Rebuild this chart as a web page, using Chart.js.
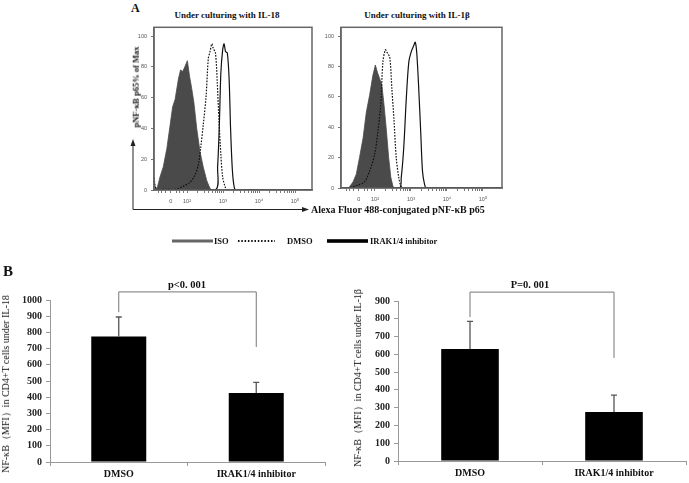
<!DOCTYPE html>
<html>
<head>
<meta charset="utf-8">
<script src="https://cdn.jsdelivr.net/npm/chart.js@4.4.0/dist/chart.umd.min.js"></script>
<style>
html, body { margin: 0; padding: 0; background: #fff; }
#fig { position: relative; width: 689px; height: 483px; overflow: hidden;
       font-family: "Liberation Serif", "Times New Roman", serif; color: #111; }
.box { position: absolute; }
.t { position: absolute; white-space: nowrap; font-weight: bold; line-height: 1; }
.c { transform: translate(-50%, -50%); }
.l { transform: translate(0, -50%); }
.r { transform: translate(-50%, -50%) rotate(-90deg); }
</style>
</head>
<body>
<div id="fig">

<svg class="box" style="left:0;top:0" width="689" height="483">
  <!-- axis arrows of panel A -->
  <line x1="133" y1="144" x2="133" y2="209.5" stroke="#222" stroke-width="1"/>
  <polygon points="133,139 130.5,146 135.5,146" fill="#222"/>
  <line x1="133" y1="209.5" x2="304" y2="209.5" stroke="#222" stroke-width="1"/>
  <polygon points="309,209.5 302,207 302,212" fill="#222"/>
  <!-- legend keys -->
  <rect x="172" y="239.5" width="41" height="3" fill="#666"/>
  <line x1="238" y1="241" x2="275" y2="241" stroke="#111" stroke-width="2" stroke-dasharray="1.5 1.8"/>
  <rect x="327" y="239.2" width="41" height="3.6" fill="#000"/>
</svg>

<canvas id="h18" class="box" style="left:134px;top:20px" width="182" height="195"></canvas>
<canvas id="h1b" class="box" style="left:321px;top:20px" width="185" height="193"></canvas>
<canvas id="b18" class="box" style="left:0px;top:270px" width="330" height="213"></canvas>
<canvas id="b1b" class="box" style="left:345px;top:270px" width="344" height="213"></canvas>

<div class="t" style="left:131px;top:2px;font-size:12px">A</div>
<div class="t c" style="left:227px;top:15px;font-size:9px">Under culturing with IL-18</div>
<div class="t c" style="left:417px;top:15px;font-size:9px">Under culturing with IL-1β</div>
<div class="t r" style="left:136px;top:87px;font-size:8.5px">pNF-κB p65% of Max</div>
<div class="t l" style="left:311px;top:210px;font-size:10px">Alexa Fluor 488-conjugated pNF-κB p65</div>

<div class="t l" style="left:214px;top:241px;font-size:8.5px">ISO</div>
<div class="t l" style="left:287px;top:241px;font-size:8.5px">DMSO</div>
<div class="t l" style="left:370px;top:241px;font-size:8.5px">IRAK1/4 inhibitor</div>

<div class="t" style="left:3px;top:264px;font-size:15px">B</div>
<div class="t c" style="left:187px;top:285px;font-size:10.5px">p&lt;0. 001</div>
<div class="t c" style="left:530px;top:285px;font-size:10.5px">P=0. 001</div>
<div class="t r" style="left:6px;top:384px;font-size:10px;font-weight:normal">NF-κB（MFI）in CD4+T cells under IL-18</div>
<div class="t r" style="left:358px;top:378px;font-size:10px;font-weight:normal">NF-κB（MFI）in CD4+T cells under IL-1β</div>

</div>
<script>
// ===== histogram data (x in decades of the logicle axis, y = % of max) =====
const iso18X  = [1.09, 1.12, 1.18, 1.25, 1.34, 1.44, 1.53, 1.60, 1.67, 1.76, 1.82, 1.88, 1.94, 2.01, 2.07, 2.13, 2.19, 2.27, 2.36, 2.45, 2.55, 2.64, 2.69];
const iso18Y  = [6, 0.5, 2, 8.5, 15, 27, 42, 54, 59, 72, 78, 77, 80, 84, 74, 66, 57, 40, 25, 15, 6, 1, 0];
const dmso18X = [1.09, 1.11, 1.15, 1.40, 1.71, 1.90, 2.08, 2.22, 2.32, 2.38, 2.45, 2.53, 2.59, 2.64, 2.69, 2.73, 2.79, 2.84, 2.89, 2.94, 2.99, 3.06, 3.12, 5.46];
const dmso18Y = [8, 3, 0.5, 0.5, 0.5, 2.5, 5, 9.5, 17, 27.5, 42, 61, 85, 90, 95, 92, 89, 70, 44, 23, 8.5, 2, 0, 0];
const irak18X = [1.09, 2.78, 2.85, 2.90, 2.94, 2.99, 3.03, 3.07, 3.12, 3.17, 3.21, 3.26, 3.31, 3.36, 5.46];
const irak18Y = [0, 0, 15, 44, 76, 91, 95, 90, 89, 72, 40, 13, 2, 0, 0];

const iso1bX  = [1.25, 1.30, 1.39, 1.48, 1.57, 1.67, 1.76, 1.85, 1.94, 2.01, 2.07, 2.13, 2.19, 2.25, 2.32, 2.38, 2.44, 2.50, 2.55];
const iso1bY  = [0, 1, 4, 9, 20, 33, 50, 61, 74, 81, 76, 72, 68, 55, 37, 20, 7, 1, 0];
const dmso1bX = [1.06, 1.34, 1.53, 1.71, 1.85, 1.99, 2.08, 2.16, 2.22, 2.29, 2.34, 2.41, 2.47, 2.53, 2.59, 2.66, 2.71, 2.78, 5.52];
const dmso1bY = [0, 0.5, 2, 4, 11, 22, 37, 55, 83, 91, 89, 86, 65, 44, 20, 7, 2, 0, 0];
const irak1bX = [1.06, 2.67, 2.73, 2.80, 2.87, 2.94, 3.01, 3.08, 3.12, 3.16, 3.21, 3.27, 3.32, 3.38, 3.43, 5.52];
const irak1bY = [0, 0, 7, 27, 59, 83, 90, 94, 96, 89, 68, 37, 11, 2, 0, 0];

const histTicks = [1.55, 2, 3, 4, 5];
const histTickLabels = ["0", "10²", "10³", "10⁴", "10⁵"];
const pctTicks = [0, 20, 40, 60, 80, 100];

// ===== bar data (MFI) =====
const cats = ["DMSO", "IRAK1/4 inhibitor"];
const mfiIL18 = [775, 426];
const errIL18 = [120, 66];
const mfiIL1b = [630, 275];
const errIL1b = [155, 96];
// significance bracket: [top, left end, right end]
const brIL18 = [1050, 925, 710];
const brIL1b = [950, 810, 580];

// minor tick marks on the log decades
const minorTicks = [];
[2, 3, 4].forEach(d => { for (let m = 2; m <= 9; m++) minorTicks.push(d + Math.log10(m)); });
[1.2, 1.3, 1.4, 1.7, 1.8, 1.9].forEach(v => minorTicks.push(v));

const pts = (xs, ys) => xs.map((x, i) => ({ x: x, y: ys[i] }));

const frame = {
    id: "frame",
    afterDatasetsDraw(chart) {
        const a = chart.chartArea, c = chart.ctx;
        c.save();
        c.strokeStyle = "#666";
        c.lineWidth = 1.5;
        c.strokeRect(a.left, a.top, a.right - a.left, a.bottom - a.top);
        c.restore();
    }
};

const smallFont = { size: 5.5, family: "Liberation Sans" };

function histo(id, iso, dmso, irak, xmin, xmax, ymax) {
    new Chart(document.getElementById(id), {
        type: "line",
        data: {
            datasets: [
                { data: pts(irak[0], irak[1]), borderColor: "#111", borderWidth: 1.2,
                  pointRadius: 0, tension: 0.3, fill: false, order: 1 },
                { data: pts(dmso[0], dmso[1]), borderColor: "#111", borderWidth: 1.2,
                  borderDash: [1.6, 1.4], pointRadius: 0, tension: 0.3, fill: false, order: 2 },
                { data: pts(iso[0], iso[1]), borderColor: "#4a4a4a", backgroundColor: "#4a4a4a",
                  borderWidth: 0.8, pointRadius: 0, tension: 0, fill: "origin", order: 3 }
            ]
        },
        options: {
            responsive: false,
            animation: false,
            devicePixelRatio: 1,
            layout: { padding: { top: 4, right: 4, left: 0, bottom: 0 } },
            plugins: { legend: { display: false }, tooltip: { enabled: false } },
            scales: {
                x: {
                    type: "linear", min: xmin, max: xmax,
                    afterBuildTicks: s => { s.ticks = histTicks.concat(minorTicks).map(v => ({ value: v })); },
                    afterFit: s => { s.height = 25; },
                    ticks: {
                        autoSkip: false, maxRotation: 0, padding: 5, font: smallFont, color: "#555",
                        callback: v => {
                            const i = histTicks.findIndex(t => Math.abs(t - v) < 1e-6);
                            return i < 0 ? "" : histTickLabels[i];
                        }
                    },
                    grid: { drawOnChartArea: false, tickLength: 3, color: "#777" },
                    border: { color: "#666", width: 1.5 }
                },
                y: {
                    min: 0, max: ymax,
                    afterBuildTicks: s => { s.ticks = pctTicks.map(v => ({ value: v })); },
                    afterFit: s => { s.width = 20; },
                    ticks: { padding: 4, font: smallFont, color: "#555" },
                    grid: { drawOnChartArea: false, tickLength: 3, color: "#777" },
                    border: { color: "#666", width: 1.5 }
                }
            }
        },
        plugins: [frame]
    });
}

histo("h18", [iso18X, iso18Y], [dmso18X, dmso18Y], [irak18X, irak18Y], 1.083, 5.472, 105.7);
histo("h1b", [iso1bX, iso1bY], [dmso1bX, dmso1bY], [irak1bX, irak1bY], 1.056, 5.528, 105.8);

const serifBold = { size: 10, weight: "bold", family: "Liberation Serif" };

function bars(id, vals, errs, ymax, br, yw, xh, padTop, padRight) {
    const marks = {
        id: "marks",
        afterDatasetsDraw(chart) {
            const x = chart.scales.x, y = chart.scales.y, c = chart.ctx;
            c.save();
            c.strokeStyle = "#555";
            c.lineWidth = 1.3;
            vals.forEach((v, i) => {
                const px = x.getPixelForValue(i);
                const y0 = y.getPixelForValue(v), y1 = y.getPixelForValue(v + errs[i]);
                c.beginPath();
                c.moveTo(px, y0); c.lineTo(px, y1);
                c.moveTo(px - 3, y1); c.lineTo(px + 3, y1);
                c.stroke();
            });
            // significance bracket
            const xl = x.getPixelForValue(0), xr = x.getPixelForValue(1);
            c.strokeStyle = "#777";
            c.lineWidth = 1;
            c.beginPath();
            c.moveTo(xl, y.getPixelForValue(br[1]));
            c.lineTo(xl, y.getPixelForValue(br[0]));
            c.lineTo(xr, y.getPixelForValue(br[0]));
            c.lineTo(xr, y.getPixelForValue(br[2]));
            c.stroke();
            c.restore();
        }
    };

    new Chart(document.getElementById(id), {
        type: "bar",
        data: {
            labels: cats,
            datasets: [{ data: vals, backgroundColor: "#000", borderWidth: 0,
                         barPercentage: 0.4, categoryPercentage: 1 }]
        },
        options: {
            responsive: false,
            animation: false,
            devicePixelRatio: 1,
            layout: { padding: { top: padTop, right: padRight, left: 0, bottom: 0 } },
            plugins: { legend: { display: false }, tooltip: { enabled: false } },
            scales: {
                x: {
                    afterFit: s => { s.height = xh; },
                    ticks: { padding: 2, font: serifBold, color: "#111", maxRotation: 0 },
                    grid: { offset: true, drawOnChartArea: false, tickLength: 4, color: "#999" },
                    border: { color: "#999" }
                },
                y: {
                    min: 0, max: ymax,
                    afterFit: s => { s.width = yw; },
                    ticks: { stepSize: 100, padding: 4, font: serifBold, color: "#222",
                             callback: v => String(v) },
                    grid: { drawOnChartArea: false, tickLength: 4, color: "#999" },
                    border: { color: "#999" }
                }
            }
        },
        plugins: [marks]
    });
}

bars("b18", mfiIL18, errIL18, 1000, brIL18, 50, 21, 30, 5);
bars("b1b", mfiIL1b, errIL1b, 900, brIL1b, 53, 22, 31, 3);
</script>
</body>
</html>
